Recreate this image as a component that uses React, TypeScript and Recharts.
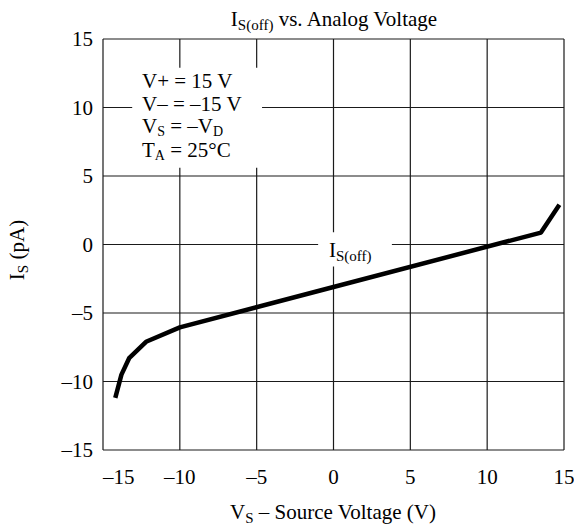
import { LineChart, Line, XAxis, YAxis, CartesianGrid, ReferenceArea } from "recharts";

const sourceVoltage = [-14.2, -13.8, -13.3, -12.2, -10.0, 0, 13.5, 14.7];
const offCurrent = [-11.2, -9.5, -8.3, -7.1, -6.05, -3.1, 0.87, 2.9];
const xTicks = [-15, -10, -5, 0, 5, 10, 15];
const yTicks = [-15, -10, -5, 0, 5, 10, 15];

const data = sourceVoltage.map((v, i) => ({ v, is: offCurrent[i] }));

const FONT = "'Liberation Serif', 'Times New Roman', serif";
const FS = 21;
const SUB = 15;
const dash = (n: number) => String(n).replace("-", "\u2013");

function XTick(props: any) {
    const { x, y, payload } = props;
    const first = payload.value === xTicks[0];
    return (
        <text x={x} y={y} dy="0.71em" textAnchor={first ? "start" : "middle"} fontSize={FS} fontFamily={FONT} fill="#000">
            {dash(payload.value)}
        </text>
    );
}

export default function App() {
    return (
        <div style={{ position: "absolute", left: 0, top: 0, width: 574, height: 526, background: "#fff" }}>
            <LineChart width={574} height={526} data={data} margin={{ top: 39, right: 10, bottom: 36, left: 0 }}>
                <CartesianGrid stroke="#1a1a1a" strokeWidth={1.2} />
                <XAxis
                    type="number"
                    dataKey="v"
                    domain={[-15, 15]}
                    ticks={xTicks}
                    height={40}
                    axisLine={false}
                    tickLine={false}
                    tickSize={0}
                    tickMargin={19}
                    tick={<XTick />}
                />
                <YAxis
                    type="number"
                    domain={[-15, 15]}
                    ticks={yTicks}
                    width={103}
                    axisLine={false}
                    tickLine={false}
                    tickSize={0}
                    tickMargin={10}
                    tickFormatter={dash}
                    tick={{ fontSize: FS, fontFamily: FONT, fill: "#000" }}
                />
                {/* white patches behind the in-plot annotations */}
                <ReferenceArea x1={-13.1} x2={-4.65} y1={5.6} y2={12.9} fill="#fff" fillOpacity={1} stroke="none" />
                <ReferenceArea x1={-1.0} x2={3.8} y1={-1.6} y2={0.9} fill="#fff" fillOpacity={1} stroke="none" />
                <Line
                    type="linear"
                    dataKey="is"
                    stroke="#000"
                    strokeWidth={4.5}
                    strokeLinejoin="round"
                    dot={false}
                    isAnimationActive={false}
                />
            </LineChart>
            <svg width={574} height={526} style={{ position: "absolute", left: 0, top: 0, pointerEvents: "none" }} fontFamily={FONT} fill="#000">
                <text x={334} y={26} textAnchor="middle" fontSize={FS}>
                    I<tspan fontSize={SUB} dy={4}>S(off)</tspan>
                    <tspan dy={-4}> vs. Analog Voltage</tspan>
                </text>
                <g fontSize={FS}>
                    <text x={142} y={88}>V+ = 15 V</text>
                    <text x={142} y={111}>V{"\u2013"} = {"\u2013"}15 V</text>
                    <text x={142} y={133}>
                        V<tspan fontSize={14} dy={3}>S</tspan>
                        <tspan dy={-3}> = {"\u2013"}V</tspan>
                        <tspan fontSize={14} dy={3}>D</tspan>
                    </text>
                    <text x={142} y={157}>
                        T<tspan fontSize={14} dy={3}>A</tspan>
                        <tspan dy={-3}> = 25{"\u00b0"}C</tspan>
                    </text>
                    <text x={329} y={257}>
                        I<tspan fontSize={SUB} dy={4}>S(off)</tspan>
                    </text>
                </g>
                <text x={333} y={519} textAnchor="middle" fontSize={FS}>
                    V<tspan fontSize={SUB} dy={4}>S</tspan>
                    <tspan dy={-4}> {"\u2013"} Source Voltage (V)</tspan>
                </text>
                <text transform="translate(24,250) rotate(-90)" textAnchor="middle" fontSize={FS}>
                    I<tspan fontSize={SUB} dy={4}>S</tspan>
                    <tspan dy={-4}> (pA)</tspan>
                </text>
            </svg>
        </div>
    );
}
